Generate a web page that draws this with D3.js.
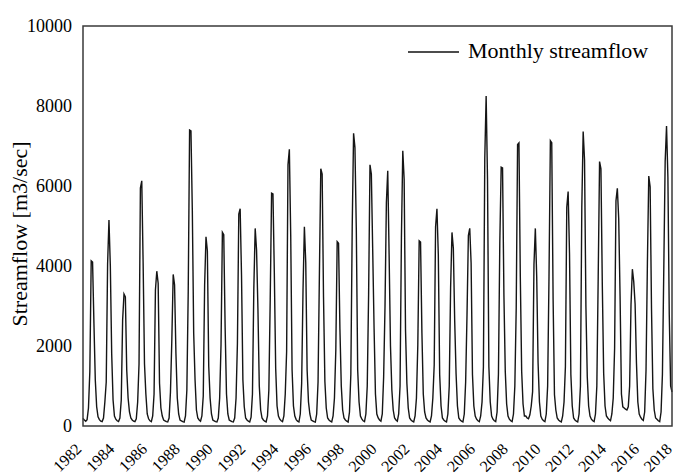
<!DOCTYPE html>
<html>
<head>
<meta charset="utf-8">
<script src="https://cdn.jsdelivr.net/npm/d3@7"></script>
<style>
  body { margin: 0; background: #fff; }
  svg text { font-family: "Liberation Serif", "Times New Roman", serif; fill: #000; }
</style>
</head>
<body>
<svg id="chart" width="673" height="475"></svg>
<script>
// first year of the record, one row of 12 months (Jan..Dec) per year
var startYear = 1982;

var monthlyFlow = [
  [190, 150, 120, 160, 450, 1360, 4130, 4100, 2570, 1150, 480, 230],   // 1982
  [160, 120, 110, 200, 600, 1100, 4050, 5150, 4000, 1800, 650, 250],   // 1983
  [170, 130, 110, 200, 650, 2650, 3300, 3230, 1400, 700, 350, 200],    // 1984
  [150, 120, 110, 180, 600, 1550, 5950, 6130, 4070, 1550, 800, 300],   // 1985
  [180, 130, 110, 250, 800, 3400, 3870, 3570, 1070, 450, 250, 150],    // 1986
  [130, 110, 100, 200, 850, 2150, 3790, 3530, 1820, 700, 300, 150],    // 1987
  [130, 110, 100, 250, 900, 3360, 7400, 7380, 5380, 2320, 1150, 400],  // 1988
  [200, 150, 120, 250, 750, 3520, 4730, 4380, 1500, 700, 300, 150],    // 1989
  [130, 110, 100, 200, 700, 2030, 4840, 4780, 2470, 800, 300, 150],    // 1990
  [130, 110, 100, 200, 700, 2070, 5300, 5430, 3760, 1150, 480, 200],   // 1991
  [150, 120, 100, 220, 800, 3440, 4940, 4400, 2940, 1000, 400, 200],   // 1992
  [150, 120, 100, 250, 900, 3170, 5820, 5800, 3830, 1440, 500, 250],   // 1993
  [170, 130, 110, 250, 800, 1860, 6530, 6920, 4760, 1400, 500, 250],   // 1994
  [160, 120, 100, 300, 1070, 3400, 4980, 4090, 1400, 600, 300, 150],   // 1995
  [130, 110, 100, 300, 1100, 3830, 6430, 6300, 3220, 1110, 450, 200],  // 1996
  [150, 120, 100, 250, 700, 1900, 4610, 4570, 2430, 1000, 400, 200],   // 1997
  [150, 120, 100, 350, 1300, 4980, 7320, 6960, 4900, 1400, 600, 250],  // 1998
  [180, 130, 110, 300, 1000, 3300, 6530, 6300, 4380, 2440, 800, 300],  // 1999
  [200, 150, 120, 300, 1230, 3000, 5580, 6380, 4280, 2000, 900, 400],  // 2000
  [200, 150, 120, 300, 1000, 4710, 6880, 6170, 2400, 1070, 450, 200],  // 2001
  [150, 120, 100, 250, 700, 2030, 4630, 4600, 2330, 800, 350, 200],    // 2002
  [150, 120, 100, 250, 700, 1530, 4980, 5430, 4280, 1280, 500, 200],   // 2003
  [150, 120, 100, 300, 1000, 3470, 4840, 4440, 2610, 1300, 500, 200],  // 2004
  [150, 120, 100, 300, 1100, 2780, 4760, 4940, 4070, 1280, 500, 250],  // 2005
  [170, 130, 110, 250, 600, 1480, 6690, 8250, 6170, 1480, 600, 250],   // 2006
  [170, 130, 110, 350, 1300, 4590, 6470, 6450, 3280, 1360, 550, 250],  // 2007
  [170, 130, 110, 300, 1000, 2940, 7040, 7080, 3730, 1360, 550, 250],  // 2008
  [250, 200, 180, 280, 500, 860, 4040, 4940, 3730, 1580, 600, 250],    // 2009
  [170, 130, 110, 300, 1000, 3740, 7130, 7080, 3170, 780, 400, 200],   // 2010
  [150, 120, 100, 250, 600, 1480, 5470, 5860, 4320, 1280, 500, 200],   // 2011
  [150, 120, 100, 300, 1000, 5470, 7360, 6650, 3000, 1230, 500, 250],  // 2012
  [170, 130, 110, 300, 1000, 3730, 6610, 6430, 3530, 1320, 500, 250],  // 2013
  [200, 160, 130, 300, 700, 1940, 5630, 5940, 5190, 3250, 800, 480],   // 2014
  [450, 420, 400, 480, 1000, 3030, 3920, 3610, 3050, 1570, 600, 300],  // 2015
  [220, 170, 140, 350, 1400, 4070, 6250, 5980, 2940, 930, 400, 200],   // 2016
  [170, 130, 110, 350, 1300, 3940, 6610, 7500, 6220, 2780, 1000, 850]  // 2017
];

var xTickYears = [1982, 1984, 1986, 1988, 1990, 1992, 1994, 1996, 1998,
  2000, 2002, 2004, 2006, 2008, 2010, 2012, 2014, 2016, 2018];
var yTickValues = [0, 2000, 4000, 6000, 8000, 10000];
var seriesName = "Monthly streamflow";
var yTitle = "Streamflow [m3/sec]";

var width = 673;
var height = 475;
var margin = {top: 26, right: 1, bottom: 49, left: 83};
var serif = "'Liberation Serif', 'Times New Roman', serif";

// flatten to one point per month
var points = [];
monthlyFlow.forEach(function(row, yi) {
  row.forEach(function(v, m) {
    points.push({t: startYear + yi + m / 12, v: v});
  });
});

var svg = d3.select("#chart");

var x = d3.scaleLinear()
  .domain([startYear, d3.max(points, function(d) { return d.t; })])
  .range([margin.left, width - margin.right]);

var y = d3.scaleLinear()
  .domain([0, 10000])
  .range([height - margin.bottom, margin.top]);

// series line
var line = d3.line()
  .x(function(d) { return x(d.t); })
  .y(function(d) { return y(d.v); });

svg.append("path")
  .datum(points)
  .attr("fill", "none")
  .attr("stroke", "#151515")
  .attr("stroke-width", 1.4)
  .attr("d", line);

// plot frame
svg.append("rect")
  .attr("x", margin.left)
  .attr("y", margin.top)
  .attr("width", width - margin.right - margin.left)
  .attr("height", height - margin.bottom - margin.top)
  .attr("fill", "none")
  .attr("stroke", "#3a3a3a")
  .attr("stroke-width", 1.5);

// y axis labels (no tick marks in the original)
var yAxis = d3.axisLeft(y).tickValues(yTickValues).tickSize(0).tickPadding(11)
  .tickFormat(d3.format("d"));
var gy = svg.append("g")
  .attr("transform", "translate(" + margin.left + ",0)")
  .attr("font-family", serif)
  .call(yAxis);
gy.select(".domain").remove();
gy.selectAll("text")
  .style("font-family", serif)
  .style("font-size", "18px")
  .attr("fill", "#000");

// x axis labels, rotated
var xAxis = d3.axisBottom(x).tickValues(xTickYears).tickSize(0).tickFormat(d3.format("d"));
var gx = svg.append("g")
  .attr("transform", "translate(0," + (height - margin.bottom) + ")")
  .attr("font-family", serif)
  .call(xAxis);
gx.select(".domain").remove();
gx.selectAll("text")
  .style("font-family", serif)
  .style("font-size", "16px")
  .attr("fill", "#000")
  .attr("text-anchor", "end")
  .attr("dy", "0")
  .attr("y", 0)
  .attr("transform", "translate(-1,24) rotate(-45)");

// y title
svg.append("text")
  .attr("transform", "translate(27," + (margin.top + (height - margin.bottom - margin.top) / 2 + 8) + ") rotate(-90)")
  .attr("text-anchor", "middle")
  .style("font-size", "22px")
  .text(yTitle);

// legend
svg.append("line")
  .attr("x1", 408).attr("x2", 459)
  .attr("y1", 52).attr("y2", 52)
  .attr("stroke", "#111")
  .attr("stroke-width", 1.5);

svg.append("text")
  .attr("x", 468)
  .attr("y", 58)
  .style("font-size", "22px")
  .text(seriesName);
</script>
</body>
</html>
